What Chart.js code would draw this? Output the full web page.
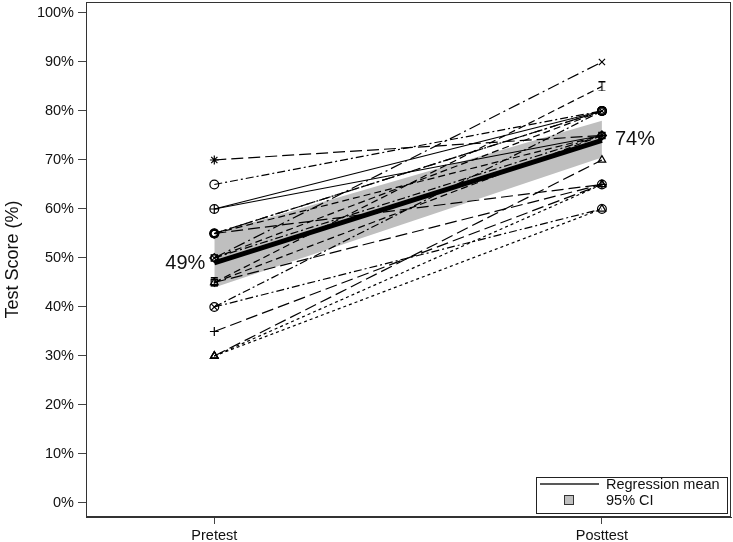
<!DOCTYPE html>
<html>
<head>
<meta charset="utf-8">
<script src="https://cdn.jsdelivr.net/npm/chart.js@4.4.1/dist/chart.umd.min.js"></script>
<style>
  html, body { margin: 0; padding: 0; background: #fff; }
  #wrap { width: 733px; height: 542px; position: relative; }
</style>
</head>
<body>
<div id="wrap"><canvas id="chart"></canvas></div>
<script>
// data
const categories = ['Pretest', 'Posttest'];
const pretestScores  = [70, 65, 60, 60, 55, 55, 55, 55, 50, 50, 50, 45, 45, 45, 40, 40, 35, 30, 30, 30];
const posttestScores = [75, 80, 80, 75, 80, 65, 75, 80, 80, 75, 90, 85, 75, 65, 80, 60, 65, 70, 65, 60];
const regressionMean = [49, 74];
const ciLower = [44, 70.5];
const ciUpper = [55, 78];
const yTickValues = [0, 10, 20, 30, 40, 50, 60, 70, 80, 90, 100];
const legendLabels = ['Regression mean', '95% CI'];

// I-beam marker (Stata "pipe" like)
function makeIBeam() {
    const c = document.createElement('canvas');
    c.width = 9; c.height = 10;
    const g = c.getContext('2d');
    g.strokeStyle = '#000';
    g.lineWidth = 1.2;
    g.beginPath();
    g.moveTo(1, 0.5); g.lineTo(8, 0.5);
    g.moveTo(4.5, 0.5); g.lineTo(4.5, 9.5);
    g.moveTo(1, 9.5); g.lineTo(8, 9.5);
    g.stroke();
    return c;
}
const iBeam = makeIBeam();

// marker and dash per subject
const subjectMarkers = ['star', 'circle', 'circle', 'cross', 'rect', 'circle', 'rectRot', 'circle', 'rect', 'rectRot',
    'crossRot', iBeam, 'rect', 'triangle', 'crossRot', 'circle', 'cross', 'triangle', 'triangle', 'triangle'];
const DASH = [7, 4], LONGDASH = [12, 5], SHORTDASH = [3, 3], DASHDOT = [8, 3, 2, 3], LONGDASHDOT = [12, 4, 2, 4], SOLID = [];
const subjectDashes = [LONGDASH, DASHDOT, SOLID, SOLID, DASHDOT, LONGDASH, DASH, LONGDASHDOT, DASH, DASHDOT,
    LONGDASHDOT, DASH, DASH, LONGDASH, DASHDOT, DASHDOT, LONGDASH, LONGDASH, SHORTDASH, SHORTDASH];

const FONT = 'Liberation Sans, Arial, sans-serif';

// データセットを組み立てる
const datasets = [];
// 95% CI band (lower edge + filled upper edge)
datasets.push({
    label: 'ci_lower',
    data: categories.map((c, i) => ({ x: i, y: ciLower[i] })),
    borderWidth: 0, pointRadius: 0, fill: false, order: 100
});
datasets.push({
    label: legendLabels[1],
    data: categories.map((c, i) => ({ x: i, y: ciUpper[i] })),
    borderWidth: 0, pointRadius: 0, fill: 0,
    backgroundColor: 'rgb(191,191,191)', order: 99
});
// subjects
pretestScores.forEach(function(v, k) {
    datasets.push({
        label: 'subject ' + (k + 1),
        data: [{ x: 0, y: v }, { x: 1, y: posttestScores[k] }],
        borderColor: '#000',
        borderWidth: 1.2,
        borderDash: subjectDashes[k],
        pointStyle: subjectMarkers[k],
        pointRadius: 4.4,
        pointBorderWidth: 1.2,
        pointBorderColor: '#000',
        pointBackgroundColor: 'rgba(0,0,0,0)',
        fill: false,
        order: 10
    });
});
// regression mean
datasets.push({
    label: legendLabels[0],
    data: categories.map((c, i) => ({ x: i, y: regressionMean[i] })),
    borderColor: '#000', borderWidth: 5, pointRadius: 0, fill: false, order: 0
});

// 枠線・ラベル・凡例を描くプラグイン
const decorations = {
    id: 'decorations',
    afterDatasetsDraw(chart) {
        const ctx = chart.ctx, a = chart.chartArea;
        const xs = chart.scales.x, ys = chart.scales.y;
        ctx.save();
        // frame
        ctx.strokeStyle = '#333';
        ctx.lineWidth = 1;
        ctx.strokeRect(a.left + 0.5, a.top + 0.5, a.right - a.left - 1, a.bottom - a.top - 1);
        // end labels of the regression mean
        ctx.fillStyle = '#111';
        ctx.font = '20px ' + FONT;
        ctx.textBaseline = 'middle';
        ctx.textAlign = 'right';
        ctx.fillText(regressionMean[0] + '%', xs.getPixelForValue(0) - 9, ys.getPixelForValue(regressionMean[0]) + 1);
        ctx.textAlign = 'left';
        ctx.fillText(regressionMean[1] + '%', xs.getPixelForValue(1) + 13, ys.getPixelForValue(regressionMean[1]) - 1);
        // legend box
        const bx = a.right - 195, by = a.bottom - 40, bw = 191, bh = 36;
        ctx.fillStyle = '#fff';
        ctx.fillRect(bx, by, bw, bh);
        ctx.strokeStyle = '#222';
        ctx.strokeRect(bx + 0.5, by + 0.5, bw, bh);
        ctx.beginPath();
        ctx.lineWidth = 1.5;
        ctx.moveTo(bx + 4, by + 7);
        ctx.lineTo(bx + 63, by + 7);
        ctx.stroke();
        ctx.fillStyle = 'rgb(191,191,191)';
        ctx.fillRect(bx + 28, by + 18, 10, 10);
        ctx.lineWidth = 1;
        ctx.strokeStyle = '#333';
        ctx.strokeRect(bx + 28.5, by + 18.5, 9, 9);
        ctx.fillStyle = '#111';
        ctx.font = '14.5px ' + FONT;
        ctx.textBaseline = 'alphabetic';
        ctx.textAlign = 'left';
        ctx.fillText(legendLabels[0], bx + 70, by + 12);
        ctx.fillText(legendLabels[1], bx + 70, by + 28);
        ctx.restore();
    }
};

const ctx = document.getElementById('chart').getContext('2d');
new Chart(ctx, {
    type: 'line',
    data: { datasets: datasets },
    plugins: [decorations],
    options: {
        responsive: true,
        maintainAspectRatio: false,
        animation: false,
        devicePixelRatio: 1,
        layout: { autoPadding: false, padding: { top: 2, right: 2, left: 0, bottom: 0 } },
        plugins: { legend: { display: false }, tooltip: { enabled: false } },
        scales: {
            x: {
                type: 'linear',
                min: -0.331,
                max: 1.333,
                afterBuildTicks: function(scale) {
                    scale.ticks = categories.map((c, i) => ({ value: i }));
                },
                afterFit: function(scale) {
                    scale.height = 25;
                    scale.paddingLeft = 0; scale.paddingRight = 0;
                },
                grid: { drawOnChartArea: false, drawTicks: true, tickLength: 7, color: '#444' },
                border: { display: true, color: '#333' },
                ticks: {
                    autoSkip: false, maxRotation: 0, padding: 3, color: '#111',
                    font: { family: FONT, size: 14.5 },
                    callback: (v) => categories[v]
                }
            },
            y: {
                type: 'linear',
                min: -2.86,
                max: 102.24,
                afterBuildTicks: function(scale) {
                    scale.ticks = yTickValues.map(v => ({ value: v }));
                },
                afterFit: function(scale) {
                    scale.width = 86;
                    scale.paddingTop = 0; scale.paddingBottom = 0;
                },
                grid: { drawOnChartArea: false, drawTicks: true, tickLength: 8, color: '#444' },
                border: { display: true, color: '#333' },
                title: {
                    display: true, text: 'Test Score (%)', color: '#111',
                    font: { family: FONT, size: 18 }, padding: { top: 2, bottom: 0 }
                },
                ticks: {
                    autoSkip: false, padding: 4, color: '#111',
                    font: { family: FONT, size: 14.5 },
                    callback: (v) => v + '%'
                }
            }
        }
    }
});
</script>
</body>
</html>
